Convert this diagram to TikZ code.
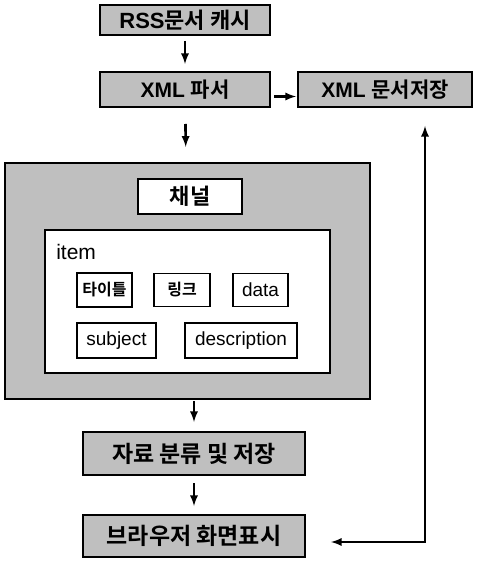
\documentclass[tikz,border=0pt]{standalone}
\usepackage{fontspec}
\setmainfont{Liberation Sans}
\newfontfamily\kr{Noto Sans CJK KR}[BoldFont={Noto Sans CJK KR Bold}]
\usepackage{tikz}
\tikzstyle{block}=[draw, line width=2pt, fill=black!25, inner sep=0pt, font=\bfseries\fontsize{21}{24}\selectfont]
\tikzstyle{tag}=[draw, line width=1.8pt, fill=white, inner sep=0pt, font=\fontsize{18}{21}\selectfont]
\tikzstyle{arrow}=[line width=2.6pt,->,>=latex]
\usetikzlibrary{arrows,positioning,calc}

\begin{document}
\begin{tikzpicture}[x=1pt,y=-1pt,node distance=26pt]
\useasboundingbox (0,0) rectangle (486,564);
\node (rss) [block,minimum width=170,minimum height=30,font=\bfseries\fontsize{22}{24}\selectfont] at (185,20) {RSS{\kr 문서 캐시}};
\node (parser) [block,minimum width=170,minimum height=35] at (185,89.5) {XML {\kr 파서}};
\node (store) [block,right=of parser,minimum width=174,minimum height=35] {XML {\kr 문서저장}};

\node (outer) [draw,line width=2.4pt,fill=black!25,minimum width=365,minimum height=236] at (187.5,281) {};
\node (chan) [tag,minimum width=104,minimum height=35,font=\bfseries\fontsize{22}{24}\selectfont] at (190,196.5) {\kr 채널};
\node (itembox) [tag,minimum width=285,minimum height=143] at (187.5,301.5) {};
\node (itemlbl) [anchor=base west,inner sep=0pt,font=\fontsize{21}{24}\selectfont] at ($(itembox.north west)+(12,30)$) {item};
\node (title) [tag,minimum width=55,minimum height=34,font=\bfseries\fontsize{16}{18}\selectfont] at (104.5,290) {\kr 타이틀};
\node (link) [tag,minimum width=56,minimum height=33,font=\bfseries\fontsize{16}{18}\selectfont] at (182,290) {\kr 링크};
\node (data) [tag,minimum width=55,minimum height=33,font=\fontsize{19}{21}\selectfont] at (260.5,290) {data};
\node (subj) [tag,minimum width=79,minimum height=35,font=\fontsize{19}{21}\selectfont] at (116.5,340.5) {subject};
\node (desc) [tag,minimum width=112,minimum height=35,font=\fontsize{19}{21}\selectfont] at (241,340.5) {description};

\node (sort) [block,minimum width=222,minimum height=43,font=\bfseries\fontsize{23}{26}\selectfont] at (194,453.5) {\kr 자료 분류 및 저장};
\node (show) [block,minimum width=222,minimum height=42,font=\bfseries\fontsize{23}{26}\selectfont] at (194,536) {\kr 브라우저 화면표시};

\draw[arrow,shorten <=5pt,shorten >=7pt] (rss) -- (parser);
\draw[arrow,shorten <=3pt,shorten >=1pt] ([yshift=-7pt]parser.east) -- ([yshift=-7pt]store.west);
\draw[arrow,shorten <=16pt,shorten >=15pt] (parser) -- (outer);
\draw[arrow,shorten <=1pt,shorten >=9pt] (outer.south -| sort) -- (sort);
\draw[arrow,shorten <=7pt,shorten >=8pt] (sort) -- (show);
\draw[arrow,<->] ($(store.south)+(40,18)$) |- ($(show.east)+(25,6)$);
\end{tikzpicture}
\end{document}
